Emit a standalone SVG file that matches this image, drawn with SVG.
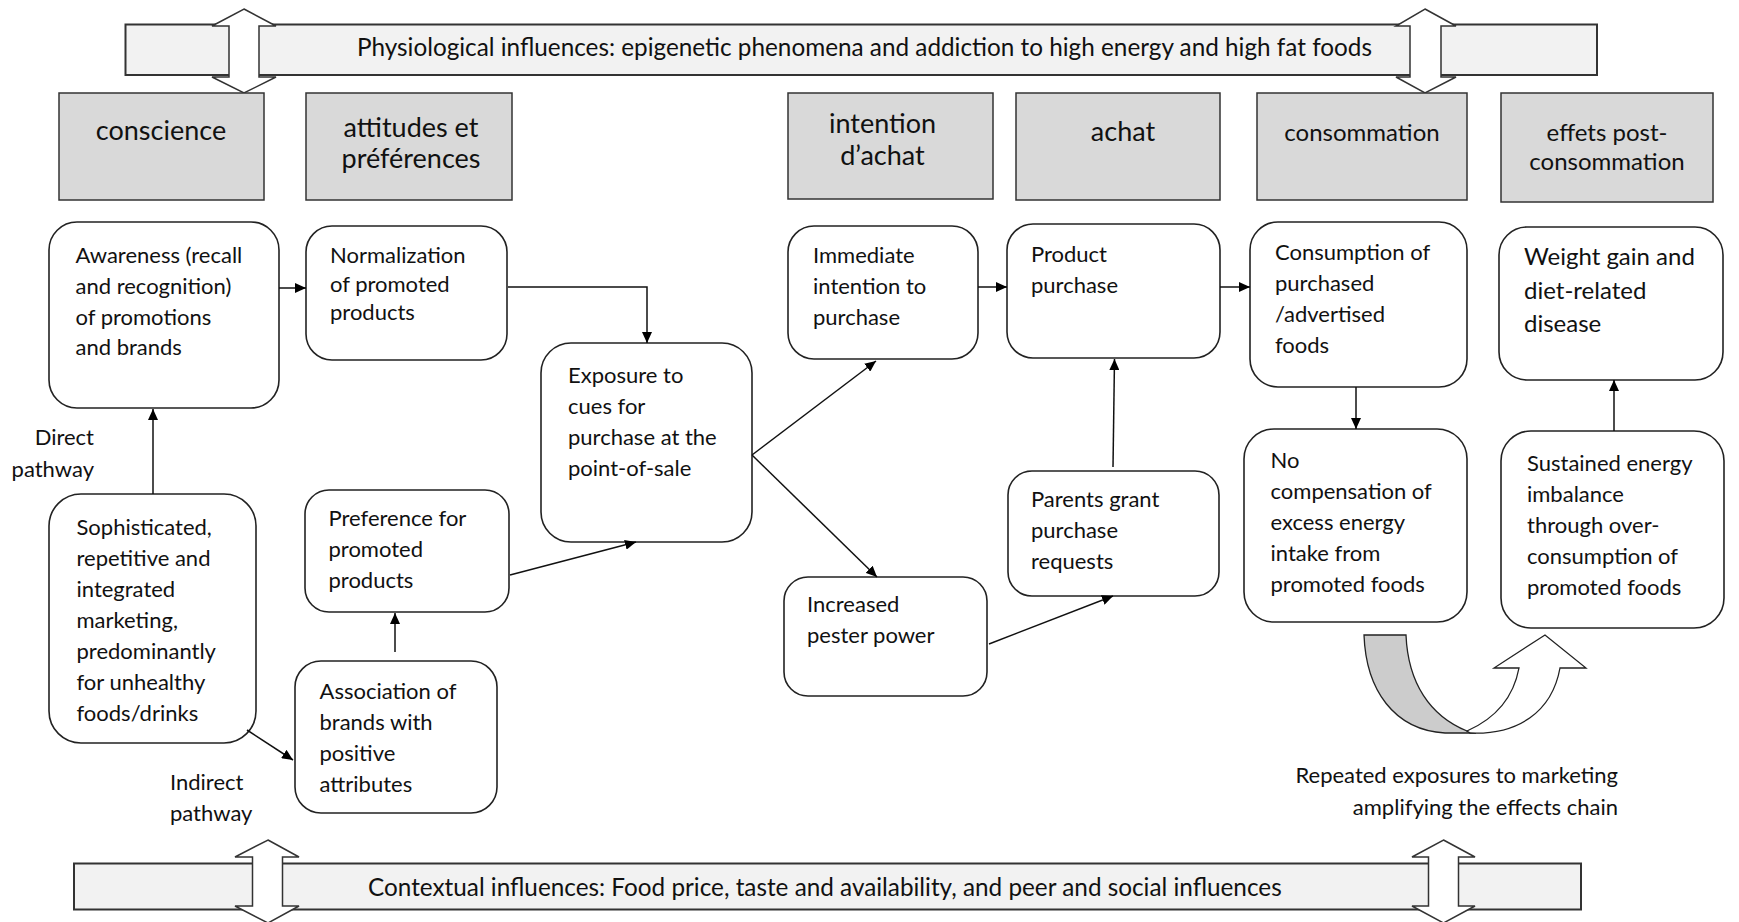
<svg xmlns="http://www.w3.org/2000/svg" width="1739" height="922" viewBox="0 0 1739 922">
<defs>
<marker id="ah" markerUnits="userSpaceOnUse" markerWidth="12" markerHeight="10" refX="11" refY="5" orient="auto">
<path d="M0,0 L11,5 L0,10 Z" fill="#000"/>
</marker>
<style>
.band{fill:#f2f2f2;stroke:#333;stroke-width:2}
.dbl{fill:#fff;stroke:#333;stroke-width:1.5}
.hdr{fill:#d9d9d9;stroke:#333;stroke-width:1.5}
.box{fill:#fff;stroke:#222;stroke-width:1.6}
.ht{font-family:Lato,"Open Sans",sans-serif;font-size:27px;fill:#111;text-anchor:middle}
.hs{font-family:Lato,"Open Sans",sans-serif;font-size:24px;fill:#111;text-anchor:middle}
.bt{font-family:Lato,"Open Sans",sans-serif;font-size:22px;fill:#111}
.bl{font-family:Lato,"Open Sans",sans-serif;font-size:24px;fill:#111}
.bb{font-family:Lato,"Open Sans",sans-serif;font-size:24.3px;fill:#111}
.conn{stroke:#111;stroke-width:1.5;fill:none;marker-end:url(#ah)}
</style>
</defs>
<rect width="1739" height="922" fill="#fff"/>

<g id="top-band">
<rect class="band" x="125.5" y="24.5" width="1471.5" height="50.5"/>
<text class="bb" x="357" y="56">Physiological influences: epigenetic phenomena and addiction to high energy and high fat foods</text>
<path class="dbl" d="M244,9 L276,26 L259,26 L259,77 L276,77 L244,93 L212,77 L229,77 L229,26 L212,26 Z"/>
<path class="dbl" d="M1425,9 L1456,26 L1441,26 L1441,77 L1456,77 L1425,93 L1396,77 L1410,77 L1410,26 L1396,26 Z"/>
</g>

<g id="bottom-band">
<rect class="band" x="74" y="863.5" width="1507" height="46"/>
<text class="bb" x="368" y="895.5">Contextual influences: Food price, taste and availability, and peer and social influences</text>
<path class="dbl" d="M268,840 L299,857 L282.5,857 L282.5,906 L299,906 L268,923 L235,906 L252.5,906 L252.5,857 L235,857 Z"/>
<path class="dbl" d="M1443.5,840 L1475,857 L1458.5,857 L1458.5,906 L1475,906 L1443.5,923 L1412,906 L1428.5,906 L1428.5,857 L1412,857 Z"/>
</g>

<g id="h-conscience"><rect class="hdr" x="59" y="93" width="205" height="107"/><text class="ht" x="161" y="140">conscience</text></g>
<g id="h-attitudes"><rect class="hdr" x="306" y="93" width="206" height="107"/><text class="ht" x="411" y="137">attitudes et</text><text class="ht" x="411" y="168">préférences</text></g>
<g id="h-intention"><rect class="hdr" x="788" y="93" width="205" height="106"/><text class="ht" x="882.5" y="133">intention</text><text class="ht" x="882.5" y="165">d’achat</text></g>
<g id="h-achat"><rect class="hdr" x="1016" y="93" width="204" height="107"/><text class="ht" x="1123" y="141">achat</text></g>
<g id="h-consommation"><rect class="hdr" x="1257" y="93" width="210" height="107"/><text class="hs" x="1362" y="141">consommation</text></g>
<g id="h-effets"><rect class="hdr" x="1501" y="93" width="212" height="109"/><text class="hs" x="1607" y="141">effets post-</text><text class="hs" x="1607" y="170">consommation</text></g>

<g id="n-awareness"><rect class="box" x="49" y="222" width="230" height="186" rx="28"/>
<text class="bt" x="75.5" y="263">Awareness (recall</text><text class="bt" x="75.5" y="294">and recognition)</text><text class="bt" x="75.5" y="324.5">of promotions</text><text class="bt" x="75.5" y="355">and brands</text></g>
<g id="n-normalization"><rect class="box" x="306" y="226" width="201" height="134" rx="26"/>
<text class="bt" x="330" y="263">Normalization</text><text class="bt" x="330" y="291.5">of promoted</text><text class="bt" x="330" y="320">products</text></g>
<g id="n-exposure"><rect class="box" x="541" y="343" width="211" height="199" rx="30"/>
<text class="bt" x="568" y="383">Exposure to</text><text class="bt" x="568" y="414">cues for</text><text class="bt" x="568" y="445">purchase at the</text><text class="bt" x="568" y="476">point-of-sale</text></g>
<g id="n-immediate"><rect class="box" x="788" y="226" width="190" height="133" rx="26"/>
<text class="bt" x="813" y="263">Immediate</text><text class="bt" x="813" y="294">intention to</text><text class="bt" x="813" y="325">purchase</text></g>
<g id="n-product"><rect class="box" x="1007" y="224" width="213" height="134" rx="26"/>
<text class="bt" x="1031" y="262">Product</text><text class="bt" x="1031" y="293">purchase</text></g>
<g id="n-consumption"><rect class="box" x="1250" y="222" width="217" height="165" rx="28"/>
<text class="bt" x="1275" y="260">Consumption of</text><text class="bt" x="1275" y="291">purchased</text><text class="bt" x="1275" y="322">/advertised</text><text class="bt" x="1275" y="353">foods</text></g>
<g id="n-weight"><rect class="box" x="1499" y="227" width="224" height="153" rx="28"/>
<text class="bl" x="1524" y="265">Weight gain and</text><text class="bl" x="1524" y="299">diet-related</text><text class="bl" x="1524" y="332">disease</text></g>
<g id="n-sophisticated"><rect class="box" x="49" y="494" width="207" height="249" rx="32"/>
<text class="bt" x="76.5" y="535">Sophisticated,</text><text class="bt" x="76.5" y="566">repetitive and</text><text class="bt" x="76.5" y="597">integrated</text><text class="bt" x="76.5" y="628">marketing,</text><text class="bt" x="76.5" y="659">predominantly</text><text class="bt" x="76.5" y="690">for unhealthy</text><text class="bt" x="76.5" y="721">foods/drinks</text></g>
<g id="n-preference"><rect class="box" x="305" y="490" width="204" height="122" rx="24"/>
<text class="bt" x="328.5" y="526">Preference for</text><text class="bt" x="328.5" y="557">promoted</text><text class="bt" x="328.5" y="588">products</text></g>
<g id="n-association"><rect class="box" x="295" y="661" width="202" height="152" rx="26"/>
<text class="bt" x="319.5" y="699">Association of</text><text class="bt" x="319.5" y="730">brands with</text><text class="bt" x="319.5" y="761">positive</text><text class="bt" x="319.5" y="792">attributes</text></g>
<g id="n-increased"><rect class="box" x="784" y="577" width="203" height="119" rx="24"/>
<text class="bt" x="807" y="612">Increased</text><text class="bt" x="807" y="643">pester power</text></g>
<g id="n-parents"><rect class="box" x="1008" y="471" width="211" height="125" rx="24"/>
<text class="bt" x="1031" y="507">Parents grant</text><text class="bt" x="1031" y="538">purchase</text><text class="bt" x="1031" y="569">requests</text></g>
<g id="n-nocomp"><rect class="box" x="1244" y="429" width="223" height="193" rx="30"/>
<text class="bt" x="1270.5" y="468">No</text><text class="bt" x="1270.5" y="499">compensation of</text><text class="bt" x="1270.5" y="530">excess energy</text><text class="bt" x="1270.5" y="561">intake from</text><text class="bt" x="1270.5" y="592">promoted foods</text></g>
<g id="n-sustained"><rect class="box" x="1501" y="431" width="223" height="197" rx="30"/>
<text class="bt" x="1527" y="471">Sustained energy</text><text class="bt" x="1527" y="502">imbalance</text><text class="bt" x="1527" y="533">through over-</text><text class="bt" x="1527" y="564">consumption of</text><text class="bt" x="1527" y="595">promoted foods</text></g>

<g id="labels">
<text class="bt" x="94" y="445" text-anchor="end">Direct</text>
<text class="bt" x="94" y="477" text-anchor="end">pathway</text>
<text class="bt" x="170" y="790">Indirect</text>
<text class="bt" x="170" y="821">pathway</text>
<text class="bt" x="1618" y="783" text-anchor="end">Repeated exposures to marketing</text>
<text class="bt" x="1618" y="815" text-anchor="end">amplifying the effects chain</text>
</g>

<g id="cycle-arrow">
<path d="M1364,635 L1406,635 C1408,683 1430,716 1467,731 L1476,733 L1445,733 C1394,730 1366,690 1364,635 Z" fill="#cccccc" stroke="#222" stroke-width="1.3"/>
<path d="M1467,731 C1492,720 1513,700 1519,668 L1494,668 L1545,635 L1586,668 L1560,668 C1552,712 1518,735 1470,733 Z" fill="#fff" stroke="#222" stroke-width="1.3"/>
</g>

<g id="connectors">
<path class="conn" d="M279,288 L306,288"/>
<path class="conn" d="M508,287 L647,287 L647,343"/>
<path class="conn" d="M153,494 L153,409"/>
<path class="conn" d="M247,730 L293,760"/>
<path class="conn" d="M395,652 L395,613"/>
<path class="conn" d="M510,575 L636,542"/>
<path class="conn" d="M752,455 L876,361"/>
<path class="conn" d="M752,455 L877,577"/>
<path class="conn" d="M978,287 L1007,287"/>
<path class="conn" d="M989,644 L1113,596"/>
<path class="conn" d="M1113,467 L1114.5,359"/>
<path class="conn" d="M1220,287 L1250,287"/>
<path class="conn" d="M1356,387 L1356,429"/>
<path class="conn" d="M1614,431 L1614,380"/>
</g>
</svg>
